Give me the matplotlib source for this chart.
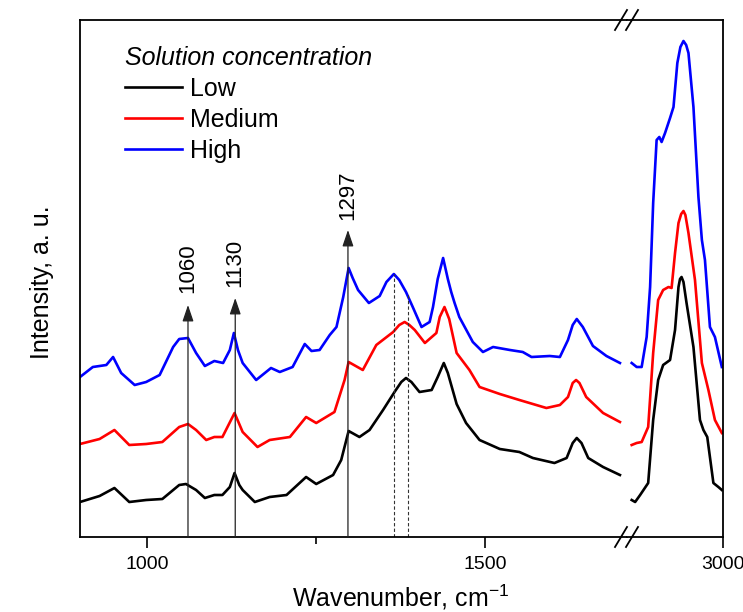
import numpy as np
import matplotlib
matplotlib.use('Agg')
import matplotlib.pyplot as plt
from matplotlib.ticker import FixedLocator
from matplotlib.lines import Line2D

plt.rcParams['font.family'] = ['Liberation Sans', 'DejaVu Sans']
plt.rcParams['mathtext.default'] = 'regular'

# Raman spectra (wavenumber, cm-1 / intensity, a.u.)
low_wn = [900, 929, 951, 973, 998, 1022, 1047, 1057, 1072, 1085,
          1099, 1111, 1122, 1129, 1136, 1141, 1159, 1181, 1206, 1235,
          1250, 1275, 1287, 1298, 1314, 1329, 1349, 1366, 1376, 1383,
          1391, 1403, 1421, 1430, 1439, 1445, 1458, 1472, 1492, 1522,
          1551, 1571, 1603, 1621, 1630, 1636, 1643, 1653, 1675, 1700,
          2763, 2772, 2785, 2806, 2819, 2832, 2845, 2863, 2876, 2885,
          2889, 2893, 2898, 2906, 2924, 2941, 2950, 2960, 2976, 2989,
          2998]
low_int = [35, 41, 49, 35, 37, 38, 52, 53, 47, 39,
           42, 42, 50, 64, 52, 47, 35, 40, 42, 60,
           53, 62, 77, 106, 100, 107, 127, 145, 155, 159,
           155, 145, 147, 160, 174, 164, 133, 114, 97, 88,
           85, 79, 74, 79, 94, 99, 94, 79, 70, 62,
           37, 35, 42, 54, 117, 157, 172, 177, 207, 250,
           258, 260, 255, 234, 190, 117, 107, 100, 54, 50,
           47]

med_wn = [900, 929, 951, 973, 998, 1022, 1047, 1060, 1072, 1087,
          1099, 1111, 1129, 1141, 1163, 1181, 1211, 1235, 1250, 1277,
          1292, 1298, 1319, 1339, 1364, 1373, 1381, 1388, 1396, 1411,
          1428, 1433, 1440, 1447, 1458, 1477, 1492, 1522, 1551, 1576,
          1591, 1611, 1623, 1630, 1635, 1640, 1650, 1675, 1700,
          2763, 2776, 2789, 2806, 2819, 2832, 2845, 2859, 2867, 2876,
          2885, 2892, 2898, 2903, 2911, 2928, 2946, 2963, 2980, 2998]
med_int = [93, 98, 107, 92, 93, 95, 110, 113, 107, 97,
           100, 100, 124, 105, 90, 97, 100, 120, 114, 125,
           157, 175, 167, 192, 205, 212, 215, 212, 207, 194,
           204, 220, 230, 218, 184, 167, 150, 143, 137, 132,
           129, 132, 140, 154, 157, 154, 140, 124, 115,
           92, 94, 95, 110, 184, 237, 247, 250, 249, 284,
           314, 323, 326, 322, 304, 257, 174, 147, 117, 104]

high_wn = [900, 919, 939, 949, 961, 981, 998, 1018, 1038, 1047,
           1060, 1072, 1085, 1099, 1112, 1122, 1128, 1134, 1141, 1161,
           1183, 1196, 1215, 1233, 1243, 1255, 1270, 1280, 1290, 1298,
           1304, 1312, 1328, 1344, 1354, 1365, 1373, 1383, 1393, 1406,
           1418, 1423, 1430, 1438, 1445, 1450, 1455, 1462, 1482, 1497,
           1512, 1537, 1556, 1569, 1596, 1611, 1623, 1630, 1636, 1645,
           1660, 1680, 1700,
           2763, 2776, 2789, 2802, 2811, 2819, 2828, 2835, 2841, 2850,
           2863, 2872, 2882, 2890, 2898, 2905, 2911, 2924, 2937, 2946,
           2954, 2967, 2980, 2998]
high_int = [160, 170, 172, 180, 164, 152, 155, 162, 190, 198,
            199, 184, 171, 176, 174, 187, 204, 187, 174, 157,
            169, 165, 170, 193, 186, 187, 202, 210, 240, 269,
            259, 247, 234, 241, 255, 263, 257, 245, 230, 210,
            215, 230, 258, 279, 258, 245, 234, 220, 195, 185,
            190, 187, 185, 180, 181, 180, 197, 212, 218, 210,
            191, 181, 174,
            174, 170, 170, 200, 250, 334, 397, 400, 395, 404,
            419, 430, 474, 490, 496, 492, 484, 430, 340, 297,
            277, 210, 200, 170]

labels = ['Low', 'Medium', 'High']
colors = ['black', 'red', 'blue']

# marked bands
arrow_pos = [1060, 1130, 1297]
arrow_top = [232, 239, 307]
label_bottom = [244, 250, 317]
dashed_pos = [1365, 1386]
dashed_top = [263, 244]

W, H = 743, 612
fig = plt.figure(figsize=(W / 100, H / 100), dpi=100)
x0, x_brk, x1 = 80, 626.7, 722.6
y_bot, y_top = 537, 20
ax1 = fig.add_axes([x0 / W, (H - y_bot) / H, (x_brk - x0) / W, (y_bot - y_top) / H])
ax2 = fig.add_axes([x_brk / W, (H - y_bot) / H, (x1 - x_brk) / W, (y_bot - y_top) / H])

series = [(low_wn, low_int), (med_wn, med_int), (high_wn, high_int)]
for (wn, inten), c, lab in zip(series, colors, labels):
    wn = np.array(wn)
    inten = np.array(inten)
    m = wn < 2000
    ax1.plot(wn[m], inten[m], color=c, lw=1.9, label=lab, solid_joinstyle='round')
    ax2.plot(wn[~m], inten[~m], color=c, lw=1.9, solid_joinstyle='round')

for ax in (ax1, ax2):
    ax.set_ylim(0, 517)
    ax.set_yticks([])
    for s in ax.spines.values():
        s.set_linewidth(1.3)
    ax.tick_params(axis='x', which='major', direction='out', length=8, width=1.2,
                   labelsize=14, pad=6)
    ax.tick_params(axis='x', which='minor', direction='out', length=5, width=1.2)

ax1.set_xlim(900, 1710)
ax1.xaxis.set_major_locator(FixedLocator([1000, 1500]))
ax1.xaxis.set_minor_locator(FixedLocator([1250]))
ax1.spines['right'].set_visible(False)

ax2.set_xlim(2750, 3000)
ax2.xaxis.set_major_locator(FixedLocator([3000]))
ax2.spines['left'].set_visible(False)

# arrows and band labels
for p, t, lb in zip(arrow_pos, arrow_top, label_bottom):
    ax1.annotate('', xy=(p, t), xytext=(p, 0),
                 arrowprops=dict(arrowstyle='-|>,head_length=0.5,head_width=0.17',
                                 color='#222222', lw=0.9, mutation_scale=20,
                                 shrinkA=0, shrinkB=0))
    ax1.text(p, lb, str(p), rotation=90, ha='center', va='bottom', fontsize=16)

for p, t in zip(dashed_pos, dashed_top):
    ax1.plot([p, p], [0, t], color='#333333', lw=0.8, ls=(0, (3, 2)))

# axis break marks
for yb in (y_bot, y_top):
    for xc in (621, 632):
        fig.add_artist(Line2D([(xc - 6) / W, (xc + 6) / W],
                              [(H - yb - 10) / H, (H - yb + 10) / H],
                              color='black', lw=1.3))

leg = ax1.legend(loc='upper left', bbox_to_anchor=(0.082, 0.95), frameon=False,
                 fontsize=18, handlelength=2.3, handletextpad=0.3,
                 labelspacing=0.28, borderpad=0, borderaxespad=0,
                 title='Solution concentration', alignment='left',
                 title_fontproperties={'style': 'italic', 'size': 18})

fig.text(401 / W, (H - 606.7) / H, 'Wavenumber, cm$^{-1}$', ha='center',
         va='baseline', fontsize=18)
fig.text(42 / W, (H - 282) / H, 'Intensity, a. u.', rotation=90,
         ha='center', va='center', fontsize=18)

fig.savefig('out.png', dpi=100, facecolor='white')
